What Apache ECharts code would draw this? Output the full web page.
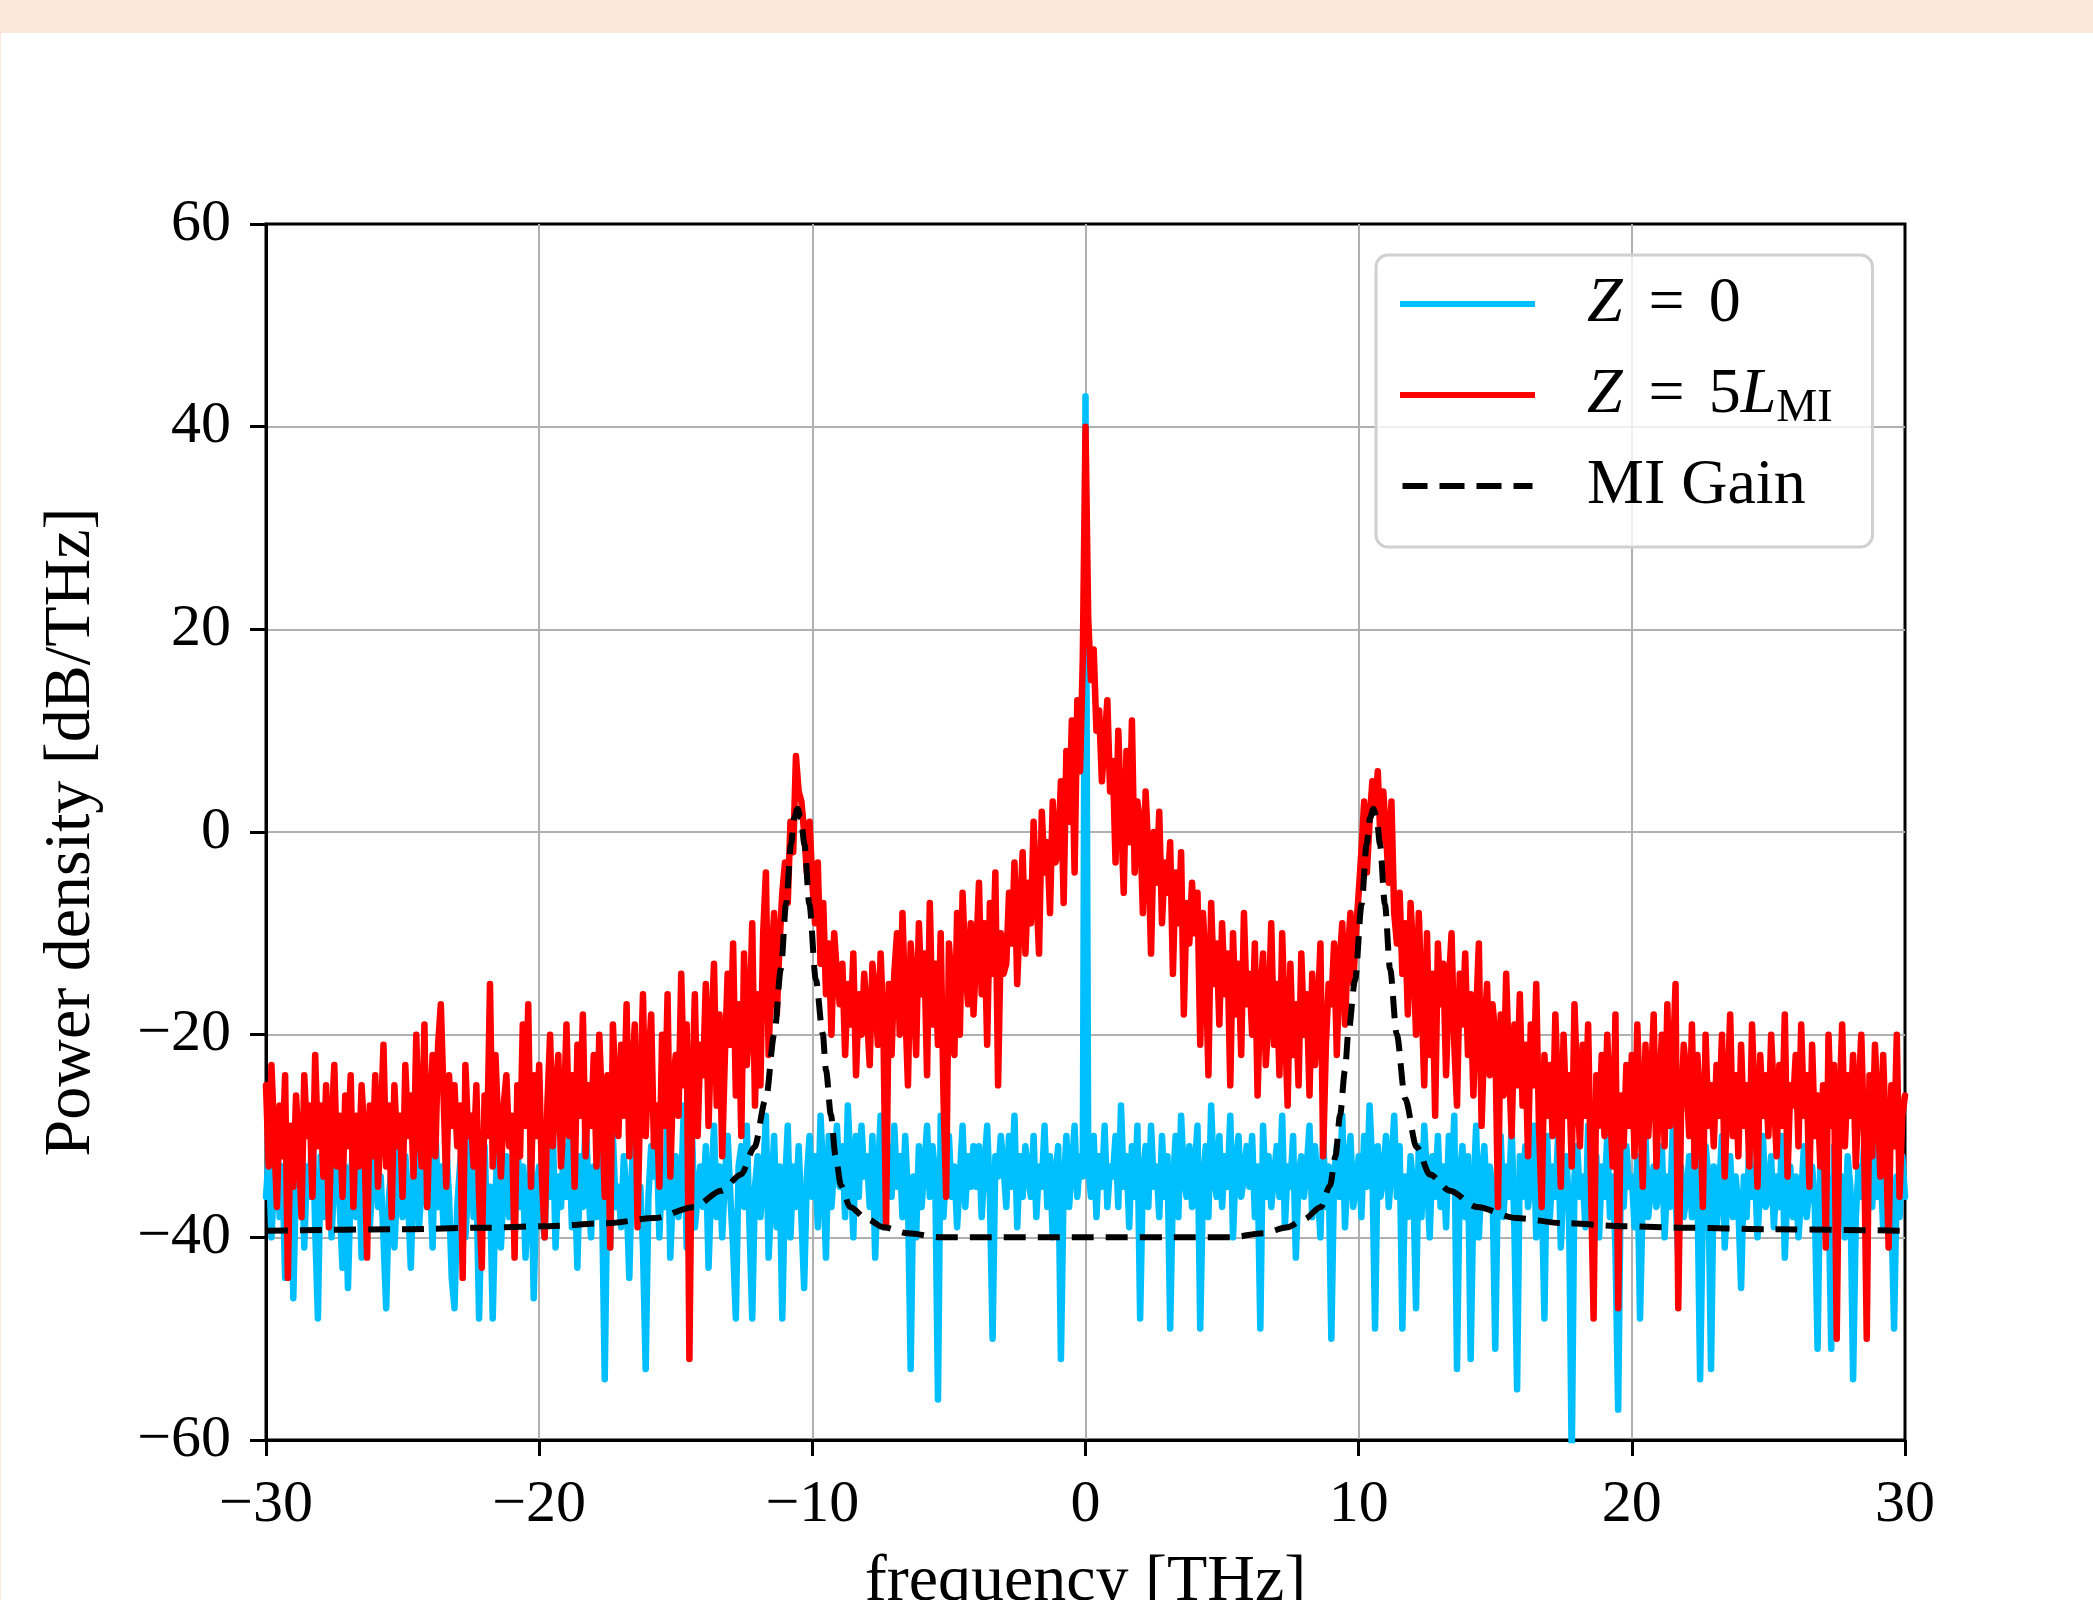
<!DOCTYPE html>
<html>
<head>
<meta charset="utf-8">
<script src="https://cdn.jsdelivr.net/npm/echarts@6/dist/echarts.min.js"></script>
<style>
  html, body { margin: 0; padding: 0; background: #fff; }
  #chart { position: absolute; left: 0; top: 0; width: 2093px; height: 1600px; }
  #band { position: absolute; left: 0; top: 0; width: 2093px; height: 33px; background: #fde7dd; z-index: 2; }
  #edge { position: absolute; left: 0; top: 33px; width: 1px; height: 1567px; background: #fde7dd; z-index: 2; }
</style>
</head>
<body>
<div id="chart"></div>
<div id="band"></div>
<div id="edge"></div>
<script>
// spectra sampled every 0.1 THz from -30 to 30, one row per THz
const blue = [
  -36, -32, -40, -34, -29, -38, -33, -44, -35, -31,
  -46, -34, -37, -30, -41, -33, -36, -28, -39, -48,
  -32, -38, -36, -31, -40, -34, -29, -37, -43, -33,
  -45, -35, -30, -38, -33, -42, -36, -29, -39, -34,
  -31, -37, -34, -40, -47, -36, -33, -41, -35, -30,
  -38, -32, -36, -43, -34, -30, -39, -35, -33, -37,
  -34, -41, -29, -37, -33, -39, -31, -36, -44, -47,
  -37, -33, -30, -40, -35, -28, -38, -34, -48, -36,
  -31, -39, -35, -48, -36, -29, -41, -35, -32, -38,
  -34, -40, -30, -37, -33, -42, -36, -31, -46, -35,
  -33, -38, -40, -32, -36, -29, -41, -34, -37, -31,
  -36, -30, -39, -34, -43, -32, -37, -28, -35, -40,
  -33, -38, -31, -36, -54, -34, -41, -30, -37, -35,
  -39, -32, -36, -44, -33, -29, -38, -35, -41, -53,
  -36, -31, -34, -30, -40, -33, -37, -28, -42, -35,
  -32, -38, -35, -27, -41, -34, -30, -39, -36, -33,
  -37, -31, -43, -35, -29, -38, -33, -40, -34, -30,
  -36, -41, -48, -33, -31, -37, -29, -39, -48, -35,
  -32, -38, -34, -28, -42, -36, -30, -39, -33, -48,
  -35, -29, -40, -33, -37, -31, -38, -45, -34, -30,
  -36, -32, -39, -28, -34, -42, -30, -37, -33, -29,
  -35, -31, -38, -27, -33, -40, -30, -36, -29, -34,
  -32, -37, -30, -42, -34, -28, -39, -33, -31, -36,
  -29, -35, -32, -38, -30, -36, -53, -34, -40, -31,
  -37, -33, -29, -36, -31, -34, -56, -28, -38, -33,
  -30, -36, -33, -39, -34, -29, -37, -32, -35, -31,
  -35, -31, -38, -33, -29, -36, -50, -32, -34, -30,
  -33, -37, -30, -35, -28, -39, -32, -36, -31, -34,
  -36, -30, -38, -33, -35, -29, -37, -32, -40, -34,
  -31, -52, -35, -30, -37, -33, -29, -36, -32, -34,
  43, -33, -36, -30, -38, -32, -35, -29, -37, -33,
  -34, -30, -37, -27, -35, -32, -39, -31, -36, -29,
  -48, -34, -31, -37, -29, -35, -33, -38, -30, -36,
  -32, -49, -35, -30, -38, -28, -34, -36, -31, -37,
  -33, -29, -49, -35, -31, -38, -27, -34, -36, -30,
  -37, -32, -35, -28, -40, -33, -30, -36, -34, -31,
  -35, -30, -38, -33, -49, -29, -36, -32, -37, -34,
  -31, -36, -28, -39, -33, -35, -30, -42, -34, -32,
  -36, -33, -29, -38, -31, -35, -40, -30, -37, -33,
  -50, -34, -31, -36, -28, -39, -33, -30, -37, -35,
  -32, -38, -30, -35, -27, -33, -49, -31, -36, -34,
  -30, -37, -33, -28, -36, -31, -49, -34, -38, -32,
  -35, -47, -31, -38, -29, -34, -40, -32, -36, -30,
  -37, -33, -39, -30, -35, -28, -53, -34, -31, -38,
  -32, -52, -36, -29, -40, -34, -31, -37, -33, -35,
  -51, -34, -30, -38, -33, -36, -29, -39, -55, -32,
  -36, -31, -37, -34, -29, -40, -33, -35, -48, -30,
  -38, -33, -36, -30, -41, -35, -32, -37, -62, -34,
  -31, -36, -34, -39, -29, -35, -37, -32, -40, -33,
  -36, -30, -38, -34, -41, -57, -33, -37, -31, -35,
  -34, -39, -32, -48, -36, -30, -38, -35, -33, -37,
  -35, -31, -40, -34, -37, -29, -36, -42, -33, -38,
  -36, -32, -38, -30, -35, -54, -37, -31, -34, -53,
  -33, -39, -35, -30, -41, -36, -32, -38, -34, -37,
  -45, -34, -38, -31, -36, -33, -40, -35, -30, -37,
  -36, -32, -39, -34, -37, -30, -42, -35, -33, -38,
  -34, -40, -36, -31, -38, -35, -33, -37, -51, -32,
  -37, -33, -35, -51, -31, -39, -36, -34, -40, -32,
  -35, -54, -38, -33, -36, -31, -39, -34, -37, -30,
  -36, -33, -39, -35, -31, -37, -49, -34, -38, -32,
  -36
];

const red = [
  -25, -33, -23, -30, -37, -27, -32, -24, -44, -29,
  -35, -26, -31, -38, -24, -30, -27, -36, -22, -31,
  -27, -34, -25, -39, -29, -23, -33, -28, -36, -26,
  -31, -24, -37, -28, -33, -25, -30, -42, -27, -32,
  -24, -35, -29, -21, -33, -27, -38, -25, -31, -28,
  -36, -23, -30, -26, -34, -20, -29, -33, -19, -37,
  -28, -22, -32, -21, -17, -26, -35, -24, -29, -25,
  -31, -27, -44, -23, -30, -28, -33, -25, -36, -43,
  -26, -30, -15, -33, -22, -29, -34, -27, -24, -31,
  -28, -42, -25, -32, -19, -29, -17, -35, -24, -30,
  -23, -34, -40, -27, -20, -31, -26, -22, -33, -28,
  -19, -30, -24, -35, -21, -28, -18, -32, -25, -29,
  -22, -33, -20, -27, -36, -24, -41, -19, -26, -30,
  -21, -28, -17, -32, -24, -19, -39, -26, -16, -30,
  -23, -18, -31, -27, -35, -20, -29, -16, -34, -25,
  -22, -28, -14, -25, -19, -52, -26, -16, -30, -21,
  -24, -15, -29, -20, -13, -27, -18, -32, -22, -14,
  -21, -11, -26, -17, -30, -12, -23, -19, -9, -27,
  -16, -25, -10, -4, -22, -13, -8, -18, -11, -6,
  -3, -7, 1, -2, 7.5, 4, 3, 0, -4, 1,
  -5, -9, -3, -13, -7, -16, -11, -20, -10, -14,
  -17, -13, -22, -15, -19, -12, -24, -16, -20, -14,
  -18, -23, -13, -16, -21, -12, -19, -39, -15, -22,
  -14, -10, -20, -8, -17, -25, -11, -15, -22, -9,
  -16, -12, -24, -7, -19, -13, -21, -10, -26, -36,
  -11, -15, -22, -8, -20, -6, -13, -17, -9, -18,
  -12, -5, -16, -9, -21, -7, -14, -4, -25, -10,
  -14, -13, -6, -11, -3, -15, -8, -2, -12, -5,
  -9, 1, -6, -12, 2, -4, -1, -8, 3, -3,
  -2, 5, -7, 8, 1, 11, -4, 13, 6, 17,
  40, 21, 15, 18, 10, 12, 5, 9, 13, 4,
  7, -3, 10, 2, -6, 8, -1, 11, -4, 3,
  1, -8, 4, -2, -12, 0, -5, 2, -9, -3,
  -6, -1, -14, -4, -9, -2, -18, -7, -11, -5,
  -10, -6, -21, -8, -13, -24, -7, -15, -11, -19,
  -9, -16, -12, -25, -10, -18, -13, -22, -8, -17,
  -14, -20, -11, -26, -16, -12, -23, -18, -9, -21,
  -15, -24, -10, -19, -27, -13, -22, -17, -25, -12,
  -20, -16, -26, -14, -23, -18, -11, -32, -21, -15,
  -17, -11, -22, -13, -9, -19, -12, -8, -15, -10,
  -6, -2, 3, -4, 1, 5, 2, 6, -1, 4,
  0, -5, 3, -8, -11, -6, -14, -9, -18, -7,
  -12, -20, -8, -16, -25, -10, -22, -14, -28, -11,
  -17, -13, -24, -15, -10, -21, -27, -14, -19, -12,
  -22, -16, -26, -18, -11, -29, -20, -15, -24, -17,
  -20, -37, -18, -26, -14, -23, -30, -19, -25, -16,
  -27, -21, -32, -19, -25, -15, -29, -37, -22, -28,
  -23, -30, -18, -26, -35, -20, -28, -24, -33, -17,
  -25, -31, -21, -28, -19, -34, -48, -24, -29, -22,
  -30, -20, -27, -33, -18, -47, -26, -31, -23, -29,
  -22, -32, -19, -27, -35, -21, -30, -25, -18, -33,
  -26, -20, -31, -17, -29, -23, -15, -47, -28, -21,
  -24, -30, -19, -33, -22, -27, -37, -20, -29, -25,
  -31, -23, -28, -20, -34, -26, -18, -30, -24, -32,
  -21, -29, -25, -33, -19, -27, -35, -22, -28, -24,
  -30, -20, -26, -32, -23, -29, -18, -34, -25, -27,
  -22, -31, -19, -28, -24, -35, -21, -30, -26, -33,
  -25, -41, -20, -29, -23, -50, -27, -19, -31, -24,
  -28, -22, -33, -26, -20, -30, -50, -24, -32, -21,
  -27, -34, -22, -30, -41, -25, -31, -20, -36, -28,
  -26
];

// MI gain curve, read point by point
const gainFreq = [
  -30, -25, -22, -19.69, -17.49, -15.78, -14.32, -13.34, -12.61, -12.12,
  -11.7, -11.39, -11.15, -10.96, -10.78, -10.66, -10.54, -10.42, -10.29, -10.11,
  -9.87, -9.62, -9.5, -9.32, -9.15, -8.95, -8.62, -8, -7.4, -6.5, -5.3, -4,
  0,
  4, 5.3, 6.5, 7.4, 8, 8.62, 8.95, 9.15, 9.32, 9.5, 9.62, 9.87,
  10.11, 10.29, 10.42, 10.54, 10.66, 10.78, 10.96, 11.15, 11.39, 11.7,
  12.12, 12.61, 13.34, 14.32, 15.78, 17.49, 19.69, 22, 25, 30
];
const gainDb = [
  -39.35, -39.2, -39.05, -38.9, -38.6, -38.1, -37.0, -35.4, -33.8, -31.1,
  -26.3, -19.9, -13.5, -7.1, -1.2, 1.4, 2.3, 1.4, -1.2, -7.1,
  -14.6, -19.9, -23.5, -27.9, -32.0, -34.9, -37.0, -38.2, -39.0, -39.6, -40, -40,
  -40,
  -40, -40, -39.6, -39.0, -38.2, -37.0, -34.9, -32.0, -27.9, -23.5, -19.9, -14.6,
  -7.1, -1.2, 1.4, 2.3, 1.4, -1.2, -7.1, -13.5, -19.9, -26.3,
  -31.1, -33.8, -35.4, -37.0, -38.1, -38.6, -38.9, -39.05, -39.2, -39.35
];

const freq = red.map((_, i) => +(-30 + i * 0.1).toFixed(1));

const FONT = '"Liberation Serif", "Times New Roman", serif';
const minus = v => String(v).replace('-', '\u2212');

const legendText = {
  'Z = 0': '{i|Z}{eq|=}0',
  'Z = 5L_MI': '{i|Z}{eq|=}5{i|L}{sub|MI}',
  'MI Gain': 'MI Gain'
};

const chart = echarts.init(document.getElementById('chart'));

const axisCommon = {
  nameLocation: 'middle',
  nameTextStyle: { fontFamily: FONT, fontSize: 66, color: '#000' },
  axisLine: { show: true, onZero: false, lineStyle: { color: '#000', width: 3 } },
  axisTick: { show: true, inside: false, length: 16, lineStyle: { color: '#000', width: 3 } },
  splitLine: { show: true, showMinLine: false, showMaxLine: false, lineStyle: { color: '#b0b0b0', width: 2 } }
};

chart.setOption({
  animation: false,
  backgroundColor: '#fff',
  grid: {
    left: 266, right: 188, top: 224, bottom: 160,
    outerBoundsMode: 'none', containLabel: false,
    show: true, borderColor: '#000', borderWidth: 3
  },
  legend: {
    orient: 'vertical',
    left: 1376, top: 255,
    padding: [14, 40, 26, 24],
    itemWidth: 135, itemHeight: 6, itemGap: 19,
    backgroundColor: 'rgba(255,255,255,0.8)',
    borderColor: '#d0d0d0', borderWidth: 3, borderRadius: 12,
    selectedMode: false,
    formatter: name => legendText[name],
    textStyle: {
      fontFamily: FONT, fontSize: 64, color: '#000', lineHeight: 70,
      padding: [0, 0, 0, 47],
      rich: {
        i: { fontFamily: FONT, fontSize: 64, fontStyle: 'italic', color: '#000', lineHeight: 70 },
        eq: { fontFamily: FONT, fontSize: 64, color: '#000', lineHeight: 70, padding: [0, 24, 0, 26] },
        sub: { fontFamily: FONT, fontSize: 46, color: '#000', lineHeight: 70, padding: [28, 0, 0, 0] }
      }
    },
    data: [
      { name: 'Z = 0', icon: 'rect' },
      { name: 'Z = 5L_MI', icon: 'rect' },
      { name: 'MI Gain', icon: 'path://M0 0h25v6H0z M37 0h25v6H37z M74 0h25v6H74z M111 0h19v6H111z' }
    ]
  },
  xAxis: Object.assign({}, axisCommon, {
    type: 'value', min: -30, max: 30, interval: 10,
    name: 'frequency [THz]', nameGap: 110,
    axisLabel: { margin: 35, fontFamily: FONT, fontSize: 60, color: '#000', formatter: minus }
  }),
  yAxis: Object.assign({}, axisCommon, {
    type: 'value', min: -60, max: 60, interval: 20,
    name: 'Power density [dB/THz]', nameGap: 161,
    axisLabel: { margin: 35, fontFamily: FONT, fontSize: 60, color: '#000', formatter: minus }
  }),
  series: [
    {
      name: 'Z = 0', type: 'line', symbol: 'none', showSymbol: false,
      color: '#00bfff', z: 2,
      lineStyle: { color: '#00bfff', width: 6.5, join: 'round', cap: 'round' },
      emphasis: { disabled: true },
      data: freq.map((f, i) => [f, blue[i]])
    },
    {
      name: 'Z = 5L_MI', type: 'line', symbol: 'none', showSymbol: false,
      color: '#ff0000', z: 3,
      lineStyle: { color: '#ff0000', width: 6.5, join: 'round', cap: 'round' },
      emphasis: { disabled: true },
      data: freq.map((f, i) => [f, red[i]])
    },
    {
      name: 'MI Gain', type: 'line', symbol: 'none', showSymbol: false,
      color: '#000', z: 4,
      smooth: 0.3, smoothMonotone: 'x',
      lineStyle: { color: '#000', width: 6, type: [22, 12] },
      emphasis: { disabled: true },
      data: gainFreq.map((f, i) => [f, gainDb[i]])
    }
  ]
});
</script>
</body>
</html>
